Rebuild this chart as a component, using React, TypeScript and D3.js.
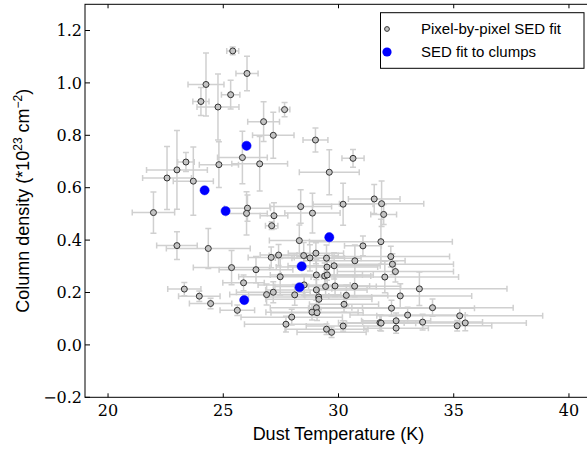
import React from "react";
import * as d3 from "d3";

// Pixel-by-pixel SED fit: temperature (K), column density (1e23 cm^-2), and errors
const pixTemp = [25.41, 26.03, 24.25, 25.32, 24.03, 24.77, 27.66, 26.75, 27.17, 29.0, 25.83, 26.58, 24.81, 23.38, 22.99, 22.56, 23.7, 29.6, 21.97, 22.99, 23.31, 23.96, 24.45, 24.35, 25.36, 25.61, 25.88, 26.05, 26.01, 27.2, 27.1, 28.36, 28.87, 28.3, 26.42, 27.08, 27.4, 28.49, 28.76, 29.02, 29.48, 27.47, 29.04, 29.4, 29.51, 29.5, 29.81, 26.88, 27.17, 28.1, 28.51, 29.44, 29.04, 29.14, 29.15, 29.04, 28.85, 29.07, 27.97, 27.72, 29.48, 29.7, 30.63, 30.2, 31.55, 31.87, 31.96, 31.06, 31.84, 32.27, 30.71, 32.34, 32.47, 32.01, 29.85, 30.7, 33.51, 30.34, 32.68, 30.24, 32.3, 34.08, 33.0, 35.26, 31.8, 31.85, 32.5, 32.5, 33.65, 30.2, 35.15, 35.5];
const pixDens = [1.122, 1.036, 0.994, 0.955, 0.929, 0.908, 0.898, 0.852, 0.8, 0.782, 0.715, 0.691, 0.688, 0.698, 0.668, 0.637, 0.625, 0.659, 0.505, 0.379, 0.213, 0.186, 0.158, 0.368, 0.295, 0.132, 0.237, 0.522, 0.502, 0.493, 0.455, 0.528, 0.503, 0.398, 0.287, 0.334, 0.343, 0.341, 0.332, 0.35, 0.331, 0.26, 0.267, 0.263, 0.267, 0.297, 0.302, 0.192, 0.201, 0.191, 0.229, 0.223, 0.21, 0.183, 0.174, 0.142, 0.125, 0.123, 0.106, 0.079, 0.06, 0.048, 0.712, 0.537, 0.557, 0.539, 0.498, 0.378, 0.394, 0.337, 0.321, 0.308, 0.28, 0.259, 0.225, 0.224, 0.214, 0.189, 0.187, 0.155, 0.14, 0.142, 0.114, 0.111, 0.085, 0.083, 0.092, 0.064, 0.087, 0.072, 0.073, 0.084];
const pixTempErr = [0.26, 0.48, 0.78, 0.4, 0.35, 0.91, 0.23, 0.69, 0.9, 0.54, 1.08, 1.21, 0.85, 0.36, 1.32, 1.06, 0.87, 1.3, 0.92, 0.88, 0.72, 0.9, 0.92, 1.82, 1.66, 0.75, 0.9, 1.0, 0.9, 0.6, 0.27, 1.34, 1.2, 1.3, 1.6, 1.0, 0.8, 1.5, 1.5, 1.2, 1.5, 1.8, 2.0, 2.0, 2.0, 2.2, 2.0, 1.6, 1.6, 2.0, 2.0, 2.2, 2.2, 2.3, 2.3, 2.0, 2.0, 2.0, 2.2, 1.8, 1.8, 1.5, 0.48, 1.3, 1.12, 1.83, 0.56, 0.8, 3.1, 2.55, 2.18, 2.65, 2.52, 3.2, 1.5, 2.0, 3.8, 1.8, 3.1, 1.5, 3.6, 3.5, 2.5, 3.6, 1.8, 1.5, 1.5, 1.4, 2.6, 1.6, 1.5, 2.65];
const pixDensErr = [0.015, 0.066, 0.12, 0.055, 0.053, 0.126, 0.027, 0.076, 0.088, 0.046, 0.1, 0.104, 0.087, 0.036, 0.15, 0.12, 0.13, 0.086, 0.079, 0.053, 0.025, 0.02, 0.02, 0.076, 0.065, 0.02, 0.03, 0.05, 0.083, 0.05, 0.015, 0.064, 0.076, 0.06, 0.05, 0.04, 0.04, 0.05, 0.05, 0.04, 0.05, 0.07, 0.06, 0.05, 0.05, 0.05, 0.05, 0.04, 0.04, 0.04, 0.04, 0.04, 0.04, 0.04, 0.04, 0.03, 0.03, 0.03, 0.03, 0.03, 0.02, 0.02, 0.034, 0.08, 0.055, 0.087, 0.038, 0.038, 0.086, 0.04, 0.06, 0.04, 0.04, 0.06, 0.04, 0.04, 0.064, 0.04, 0.046, 0.03, 0.03, 0.033, 0.03, 0.03, 0.03, 0.03, 0.03, 0.02, 0.03, 0.02, 0.02, 0.03];

// SED fit to clumps
const clumpTemp = [26.01, 24.19, 25.1, 29.6, 28.4, 28.31, 25.91];
const clumpDens = [0.76, 0.59, 0.511, 0.411, 0.3, 0.22, 0.171];

const xTicks = [20, 25, 30, 35, 40];
const yTicks = [-0.2, 0.0, 0.2, 0.4, 0.6, 0.8, 1.0, 1.2];

const W = 587;
const H = 450;
const M = { left: 85, right: 592, top: 4.3, bottom: 397.3 };

export default function App() {
  const x = d3.scaleLinear().domain([19, 41]).range([M.left, M.right]);
  const y = d3.scaleLinear().domain([-0.2, 1.3]).range([M.bottom, M.top]);
  const tickFont = "'DejaVu Serif', serif";
  const sans = "'Liberation Sans', Arial, sans-serif";
  const barColor = "#d0d0d0";
  const cap = 3;
  const fmt = (v: number) => (v < 0 ? "\u2212" : "") + Math.abs(v).toFixed(1);

  return (
    <svg width={W} height={H} style={{ position: "absolute", left: 0, top: 0, background: "#fff" }}>
      <defs>
        <clipPath id="plotclip">
          <rect x={M.left} y={M.top} width={M.right - M.left} height={M.bottom - M.top} />
        </clipPath>
      </defs>
      <g clipPath="url(#plotclip)">
        {/* error bars */}
        {pixTemp.map((t, i) => {
          const cx = x(t);
          const cy = y(pixDens[i]);
          const x0 = x(t - pixTempErr[i]);
          const x1 = x(t + pixTempErr[i]);
          const y0 = y(pixDens[i] - pixDensErr[i]);
          const y1 = y(pixDens[i] + pixDensErr[i]);
          return (
            <g key={"e" + i} stroke={barColor} strokeWidth={1.5} fill="none">
              <line x1={x0} x2={x1} y1={cy} y2={cy} />
              <line x1={cx} x2={cx} y1={y0} y2={y1} />
              <line x1={x0} x2={x0} y1={cy - cap} y2={cy + cap} />
              <line x1={x1} x2={x1} y1={cy - cap} y2={cy + cap} />
              <line x1={cx - cap} x2={cx + cap} y1={y0} y2={y0} />
              <line x1={cx - cap} x2={cx + cap} y1={y1} y2={y1} />
            </g>
          );
        })}
        {pixTemp.map((t, i) => (
          <circle key={"p" + i} cx={x(t)} cy={y(pixDens[i])} r={3} fill="#c4c4c4" stroke="#333" strokeWidth={1} />
        ))}
        {clumpTemp.map((t, i) => (
          <circle key={"c" + i} cx={x(t)} cy={y(clumpDens[i])} r={4.6} fill="#0000ff" stroke="#0000ff" strokeWidth={0.5} />
        ))}
      </g>

      {/* spines */}
      <rect x={M.left} y={M.top} width={M.right - M.left} height={M.bottom - M.top} fill="none" stroke="#000" strokeWidth={1} />

      {/* x ticks */}
      {xTicks.map((t) => (
        <g key={"xt" + t}>
          <line x1={x(t)} x2={x(t)} y1={M.bottom} y2={M.bottom - 4} stroke="#000" />
          <line x1={x(t)} x2={x(t)} y1={M.top} y2={M.top + 4} stroke="#000" />
          <text x={x(t)} y={M.bottom + 19} textAnchor="middle" fontFamily={tickFont} fontSize={16} fill="#000">
            {t}
          </text>
        </g>
      ))}
      {/* y ticks */}
      {yTicks.map((t) => (
        <g key={"yt" + t}>
          <line x1={M.left} x2={M.left + 5} y1={y(t)} y2={y(t)} stroke="#000" />
          <line x1={M.right} x2={M.right - 5} y1={y(t)} y2={y(t)} stroke="#000" />
          <text x={M.left - 3} y={y(t)} dy="0.36em" textAnchor="end" fontFamily={tickFont} fontSize={16} fill="#000">
            {fmt(t)}
          </text>
        </g>
      ))}

      {/* axis labels */}
      <text x={(M.left + M.right) / 2} y={440} textAnchor="middle" fontFamily={sans} fontSize={18} fill="#000">
        Dust Temperature (K)
      </text>
      <text
        transform={`translate(29, ${(M.top + M.bottom) / 2}) rotate(-90)`}
        textAnchor="middle"
        fontFamily={sans}
        fontSize={18}
        fill="#000"
      >
        Column density (*10
        <tspan fontSize={12} dy={-7}>23</tspan>
        <tspan dy={7}> cm</tspan>
        <tspan fontSize={12} dy={-7}>{"\u22122"}</tspan>
        <tspan dy={7}>)</tspan>
      </text>

      {/* legend */}
      <g>
        <rect x={380.5} y={12.7} width={203.5} height={55.6} fill="#fff" stroke="#000" strokeWidth={1} />
        <circle cx={387} cy={29} r={2.4} fill="#c4c4c4" stroke="#333" strokeWidth={1} />
        <text x={421} y={29} dy="0.36em" fontFamily={sans} fontSize={15} fill="#000">
          Pixel-by-pixel SED fit
        </text>
        <circle cx={387} cy={52} r={4.6} fill="#0000ff" />
        <text x={421} y={52} dy="0.36em" fontFamily={sans} fontSize={15} fill="#000">
          SED fit to clumps
        </text>
      </g>
    </svg>
  );
}
